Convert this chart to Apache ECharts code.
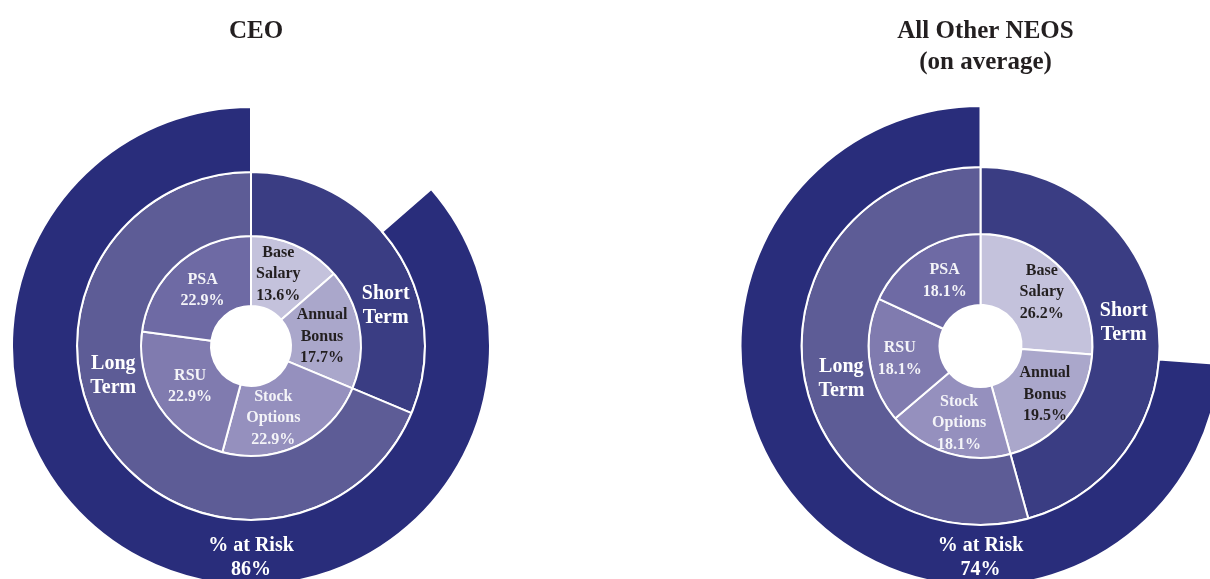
<!DOCTYPE html>
<html>
<head>
<meta charset="utf-8">
<script src="https://cdn.jsdelivr.net/npm/echarts@6/dist/echarts.min.js"></script>
<style>
html,body{margin:0;padding:0;background:#fff;}
#c{width:1210px;height:579px;}
</style>
</head>
<body>
<div id="c"></div>
<script>
// ---- data ----
const titles = ['CEO', 'All Other NEOS\n(on average)'];
const componentNames = ['Base\nSalary', 'Annual\nBonus', 'Stock\nOptions', 'RSU', 'PSA'];
const ceoValues = [13.6, 17.7, 22.9, 22.9, 22.9];
const neoValues = [26.2, 19.5, 18.1, 18.1, 18.1];
const termNames = ['Short\nTerm', 'Long\nTerm'];
const riskName = '% at Risk';
const atRiskPct = [86, 74];

// ---- styling ----
const FONT = '"Liberation Serif", serif';
const compColors = ['#c4c2dc', '#aaa7cb', '#9590be', '#807baf', '#6e6aa4'];
const compText = ['#231f20', '#231f20', '#f4f4f8', '#f4f4f8', '#f4f4f8'];
const termColors = ['#3a3d83', '#5d5c96'];
const riskColor = '#292d7b';

const charts = [
  { values: ceoValues, risk: atRiskPct[0], title: titles[0], center: [251, 346],
    r: [40, 110, 174, 239],
    termShift: [[14, 40], [-17, -51]], compShift: [[-5, -1], [-6, 3], [-12, 2], [4, -3], [3, 3]] },
  { values: neoValues, risk: atRiskPct[1], title: titles[1], center: [980.5, 346],
    r: [41, 112, 179, 240],
    termShift: [[-4, -3], [8, 13]], compShift: [[3, 0], [3, -2], [2, 1], [-2, 2], [7, 2]] }
];

const sum = a => a.reduce((s, v) => s + v, 0);
const series = [];
const title = [];

charts.forEach((c, ci) => {
  const v = c.values;
  title.push({
    text: c.title,
    left: c.center[0], top: 11, textAlign: 'center',
    textStyle: { fontFamily: FONT, fontWeight: 'bold', fontSize: 25, lineHeight: 31, color: '#231f20' }
  });
  const base = { type: 'pie', center: c.center, startAngle: 90, clockwise: true,
    avoidLabelOverlap: false, silent: true, labelLine: { show: false },
    emphasis: { disabled: true } };

  // inner ring: pay components
  series.push(Object.assign({}, base, {
    radius: [c.r[0], c.r[1]],
    data: v.map((val, i) => ({
      name: componentNames[i], value: val,
      itemStyle: { color: compColors[i], borderColor: '#fff', borderWidth: 2 },
      label: { color: compText[i] }
    })),
    label: { show: true, position: 'inside', fontFamily: FONT, fontWeight: 'bold', fontSize: 16,
      lineHeight: 21.5, align: 'center',
      formatter: p => p.name + '\n' + p.value.toFixed(1) + '%' },
    labelLayout: p => ({ dx: c.compShift[p.dataIndex][0], dy: c.compShift[p.dataIndex][1] })
  }));

  // middle ring: short / long term
  const shortT = v[0] + v[1];
  const longT = sum(v) - shortT;
  series.push(Object.assign({}, base, {
    radius: [c.r[1], c.r[2]],
    data: [shortT, longT].map((val, i) => ({
      name: termNames[i], value: val,
      itemStyle: { color: termColors[i], borderColor: '#fff', borderWidth: 2 }
    })),
    label: { show: true, position: 'inside', fontFamily: FONT, fontWeight: 'bold', fontSize: 20,
      lineHeight: 24, color: '#fff', align: 'center', formatter: '{b}' },
    labelLayout: p => ({ dx: c.termShift[p.dataIndex][0], dy: c.termShift[p.dataIndex][1] })
  }));

  // outer ring: % at risk (everything but base salary)
  series.push(Object.assign({}, base, {
    radius: [c.r[2], c.r[3]],
    data: [
      { name: 'fixed', value: v[0], itemStyle: { color: 'rgba(0,0,0,0)', borderWidth: 0 }, label: { show: false } },
      { name: riskName, value: sum(v) - v[0], itemStyle: { color: riskColor, borderColor: '#fff', borderWidth: 2 } }
    ],
    label: { show: true, position: 'inside', fontFamily: FONT, fontWeight: 'bold', fontSize: 20,
      lineHeight: 24, color: '#fff', align: 'center',
      formatter: p => p.name + '\n' + c.risk + '%' },
    labelLayout: p => ({ x: c.center[0], y: c.center[1] + 212, align: 'center', verticalAlign: 'middle' })
  }));
});

const chart = echarts.init(document.getElementById('c'), null, { renderer: 'canvas' });
chart.setOption({ animation: false, backgroundColor: '#fff', title, series });
</script>
</body>
</html>
